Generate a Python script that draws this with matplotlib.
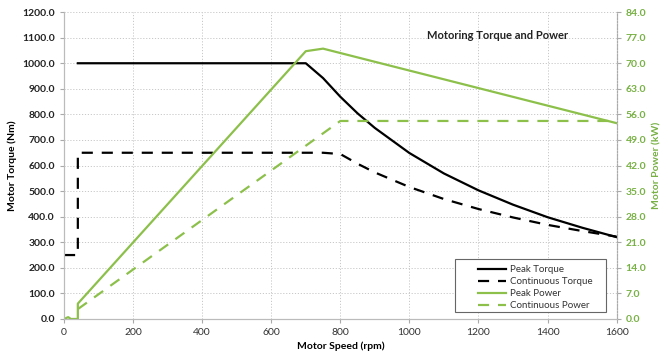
import matplotlib
matplotlib.use('Agg')
import matplotlib.pyplot as plt
from matplotlib.patches import Rectangle

plt.rcParams['font.family'] = ['Lato', 'DejaVu Sans']

# peak curves
peak_speed = [40, 100, 200, 300, 400, 500, 600, 700, 750, 800, 850, 900, 1000,
              1100, 1200, 1300, 1400, 1500, 1600]
peak_torque = [1000, 1000, 1000, 1000, 1000, 1000, 1000, 1000, 942, 869, 804, 747,
               649, 569, 503, 447, 398, 357, 320]
peak_power_speed = [0, 12, 20, 40, 40, 700, 750, 1600]
peak_power = [0.0, 0.5, 0.0, 0.0, 4.2, 73.3, 74.0, 53.6]

# continuous curves
cont_speed = [0, 40, 40, 100, 300, 500, 700, 750, 800, 850, 900, 1000, 1100, 1200,
              1300, 1400, 1500, 1600]
cont_torque = [250, 250, 650, 650, 650, 650, 650, 650, 645, 607, 573, 516, 469, 430,
               397, 368, 344, 322]
cont_power_speed = [40, 800, 1600]
cont_power = [2.7, 54.2, 54.2]

green = '#8cc04b'
tick_green = '#77b043'

fig = plt.figure(figsize=(6.69, 3.56), dpi=100)
ax = fig.add_axes([0.0957, 0.104, 0.826, 0.862])
ax2 = ax.twinx()

l1, = ax.plot(peak_speed, peak_torque, color='black', lw=1.6, label='Peak Torque')
l2, = ax.plot(cont_speed, cont_torque, color='black', lw=1.6, dashes=(5, 4),
              label='Continuous Torque')
l3, = ax2.plot(peak_power_speed, peak_power, color=green, lw=1.6, label='Peak Power')
l4, = ax2.plot(cont_power_speed, cont_power, color=green, lw=1.6, dashes=(5, 4),
               label='Continuous Power')

ax.set_xlim(0, 1600)
ax.set_ylim(0, 1200)
ax2.set_ylim(0, 84)
ax.set_xticks(range(0, 1601, 200))
ax.set_yticks(range(0, 1201, 100))
ax2.set_yticks([i * 7 for i in range(13)])
ax.set_yticklabels([f'{v:.1f}' for v in range(0, 1201, 100)], fontweight='bold',
                   fontsize=7.5, color='#222222')
ax2.set_yticklabels([f'{v * 7:.1f}' for v in range(13)], fontweight='bold',
                    fontsize=7.5, color=tick_green)
ax.tick_params(axis='x', labelsize=7.5, colors='#333333', length=3, color='#aaaaaa')
ax.tick_params(axis='y', length=3, color='#aaaaaa')
ax2.tick_params(axis='y', length=3, color='#aaaaaa')

ax.grid(True, color='#c8c8c8', linestyle=(0, (1.2, 1.8)), lw=0.7)
ax.set_axisbelow(True)

for a in (ax, ax2):
    a.spines['top'].set_visible(False)
    a.spines['left'].set_color('#bbbbbb')
    a.spines['bottom'].set_color('#bbbbbb')
    a.spines['right'].set_color('#aaaaaa')
    a.spines['right'].set_linestyle((0, (1.5, 1.5)))

ax.set_xlabel('Motor Speed (rpm)', fontsize=7.5, fontweight='bold', labelpad=3)
ax.set_ylabel('Motor Torque (Nm)', fontsize=7.5, fontweight='bold')
ax2.set_ylabel('Motor Power (kW)', fontsize=7.5, fontweight='bold', color=tick_green)

ax.text(0.785, 0.925, 'Motoring Torque and Power', transform=ax.transAxes,
        ha='center', va='center', fontsize=8, fontweight='bold', color='#222222')

# legend box drawn separately so the left padding matches
ax2.add_patch(Rectangle((0.707, 0.023), 0.273, 0.172, transform=ax.transAxes,
                        facecolor='white', edgecolor='#666666', lw=0.8, zorder=5))
leg = ax2.legend(handles=[l1, l2, l3, l4], loc='upper left', fontsize=7,
                 bbox_to_anchor=(0.735, 0.2), frameon=False, handlelength=2.9,
                 handletextpad=0.35, borderpad=0.3, labelspacing=0.3)
leg.set_zorder(6)
for t in leg.get_texts():
    t.set_color('#333333')

fig.savefig('out.png', dpi=100)
